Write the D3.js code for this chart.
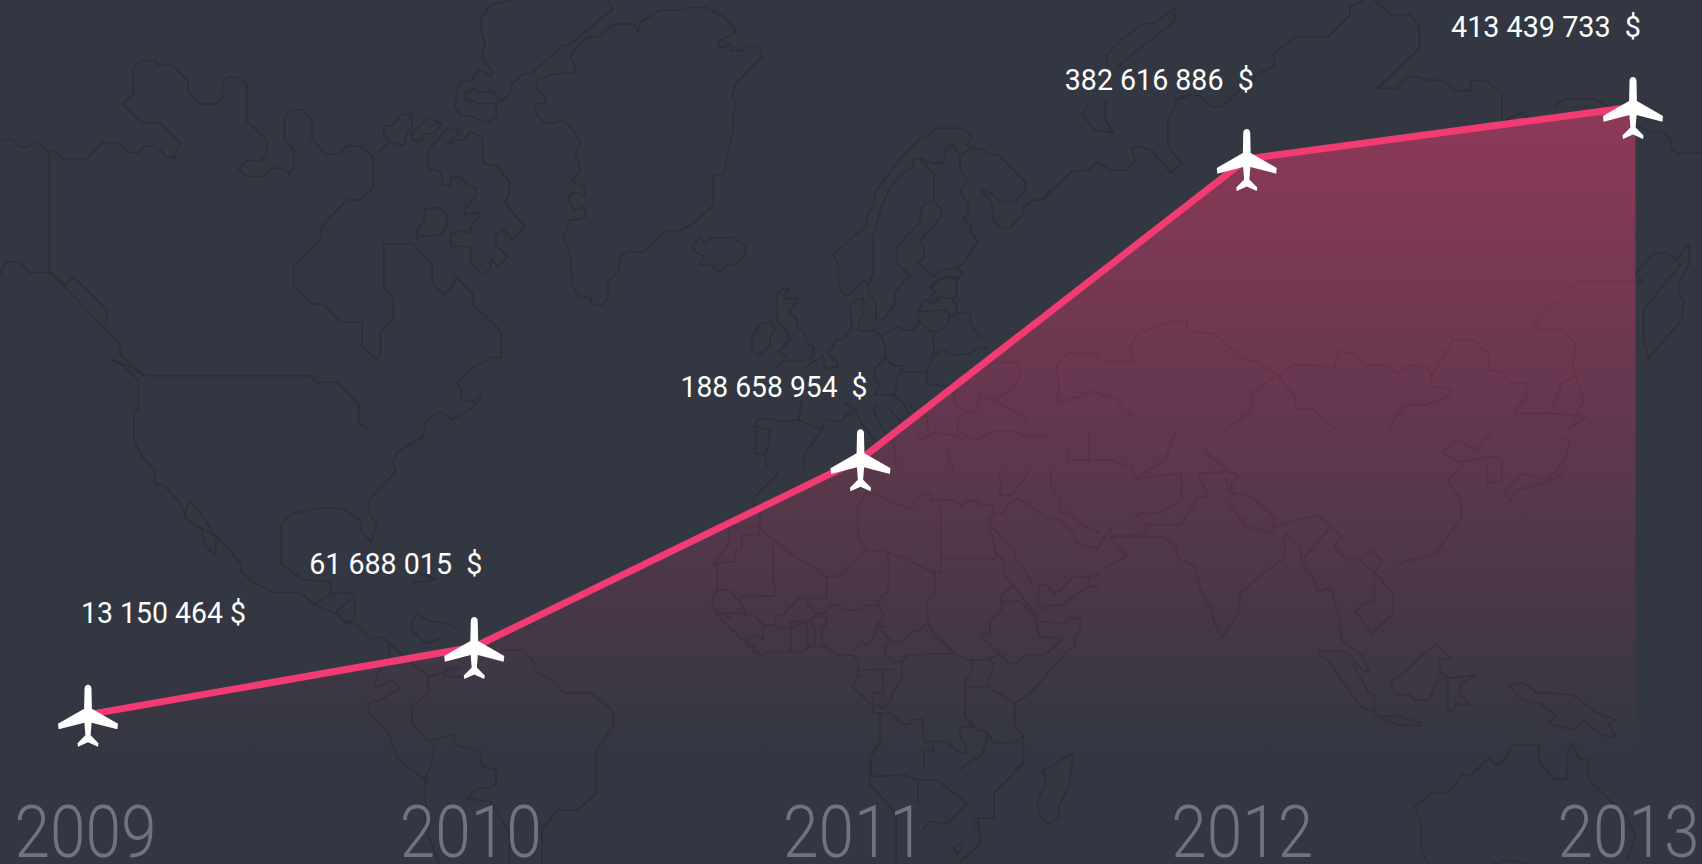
<!DOCTYPE html>
<html>
<head>
<meta charset="utf-8">
<script src="https://cdn.jsdelivr.net/npm/d3@7"></script>
<style>
    html, body { margin: 0; padding: 0; background: #323741; overflow: hidden; }
    svg { display: block; }
</style>
</head>
<body>
<div id="chart"></div>
<script>
const years = ["2009", "2010", "2011", "2012", "2013"];
const revenue = [13150464, 61688015, 188658954, 382616886, 413439733];
const revenueLabels = ["13 150 464 $", "61 688 015  $", "188 658 954  $", "382 616 886  $", "413 439 733  $"];

// the original infographic is not drawn to a straight scale, so the y scale has stops
const yDomain = [0, 100e6, 200e6, 300e6, 400e6, 413439733];
const yRange = [733, 593.6, 442, 287, 132, 107];

// where each label sits relative to its plane (the first one is on the right of it)
const labelDx = [158, 8, 7, 7, 8];
const labelDy = [-92, -73, -62, -69, -70];
const labelWidth = [165, 173, 187, 189, 190];
const yearDx = [-3, -4, -7, -5, -5];

// background world map, traced by hand from crops of the picture
// each crop has its own offset and scale, see drawMap()
const mapTopLeft = [
    "225,312 246,280 246,205 258,182 285,182 292,195 318,195 347,243 347,275 368,312 398,312 410,295 410,250 418,232 440,232 455,255 455,362 492,420 492,465 480,482 455,482 440,505 455,530 487,530 500,505 525,505 533,522 542,505 542,450 525,422 525,350 537,330 558,330 575,360 575,415 600,462 628,462 640,438 665,438 688,470 688,565 665,600 640,600 593,680 593,715 542,797 542,860 575,912 597,912 628,966 668,966 668,1040 695,1078 702,1060 702,995 725,955 725,895 708,865 708,732 762,732 797,790 797,850 818,885 838,850 838,825 872,880 872,912 925,995 925,1073 905,1073 873,1100 843,1150 850,1165 850,1200 873,1205 885,1185 890,1190 860,1238 832,1258 815,1235 800,1245 785,1270 785,1290",
    "225,312 262,368 295,368 332,428 322,473 308,473 288,438 265,438 255,458 235,458 218,428 190,428 158,477 118,477 100,455 88,452 65,425 52,440 35,440 25,420 0,418",
    "90,452 90,810",
    "0,825 10,785 35,785 55,818 90,818 122,855 135,830 197,930 197,965 188,980",
    "90,810 222,1035 222,1065 265,1125",
    "268,1127 572,1127 585,1147 623,1147 662,1215 662,1270 680,1290",
    "205,1078 225,1095 255,1140 255,1225 247,1240 247,1290",
    "205,1078 240,1100 265,1130",
    "695,460 718,425 745,437 752,395 760,385 760,342 742,342 722,378 708,378 708,405 718,425",
    "760,422 778,422 785,403 800,400 815,372 790,352 760,400 760,422",
    "825,435 850,390 825,388 790,450 790,505 812,515 818,555 832,555 832,532 850,532 860,552 878,565 878,590 855,630 860,645 885,635 885,650 868,680 868,700 850,690 832,700 832,738 868,740 868,790 890,825 905,805 905,775 918,800 937,770 915,735 915,705 928,688 945,718 968,680 932,610 940,575 940,545 915,497 892,490 890,415 868,395 855,418 842,420 825,435",
    "770,720 770,688 783,660 783,627 812,622 825,643 825,675 812,705 775,708",
    "945,0 905,15 888,50 888,95 895,130 888,175 910,215 905,228 885,208 870,240 848,248 838,320 850,345 868,348 890,365 905,365 915,350 915,310 885,310 860,298 860,280 875,265 880,275 910,275 925,303 940,285 945,250 965,222 980,222 1038,135 1050,135 1105,60 1130,30 1120,0",
    "1085,110 1058,150 1052,170 1060,195 1060,218 1020,222 990,240 990,265 1005,290 1005,310 988,312 988,340 1005,368 1022,368 1040,360 1062,400 1070,430 1062,460 1070,510 1055,545 1078,560 1078,585 1055,575 1048,600 1060,632 1078,620 1080,650 1068,658 1050,660 1040,715 1052,765 1055,850 1065,885 1090,895 1090,915 1110,915 1122,895 1122,845 1142,810 1145,770 1158,755 1188,755 1228,692 1255,692 1280,668 1315,618 1315,528 1335,520 1352,395 1352,350 1358,310 1350,285 1358,250 1382,210 1405,170 1405,150 1395,138 1372,140 1370,152 1350,152 1348,132 1328,145 1325,125 1355,100 1355,85 1335,50 1302,22 1270,22 1262,30 1218,30 1182,65 1178,98 1170,72 1138,72 1125,80 1105,110 1085,110",
    "1278,740 1290,710 1302,730 1312,715 1352,712 1375,740 1375,765 1355,795 1340,795 1328,818 1312,795 1290,795 1300,770 1282,755 1278,740"
];
const mapTopRight = [
    "350,600 408,515 440,510 455,485 480,510 510,510 525,485 518,445 530,440 555,450 590,518 610,490 585,440 585,355 600,320 600,300 625,285 640,285 665,320 685,320 720,265 740,265 745,225 780,200 780,160 820,110 880,110 920,45 920,20 945,0",
    "965,0 995,45 1030,45 1048,80 1048,145 970,265 1005,265 1025,230 1045,230 1060,240 1095,242 1112,272 1142,272 1142,242 1172,242 1200,285 1200,365",
    "472,205 472,165 505,110 520,95 540,70 560,70 597,25 597,65 545,130 510,175 490,205",
    "440,310 428,345 450,390 485,398 470,360 470,300",
    "1300,320 1300,310 1320,297 1370,297 1410,330",
    "1200,365 1235,338 1260,365",
    "1420,350 1470,395 1495,395 1510,415 1510,445 1525,460 1568,460",
    "1545,730 1520,780 1505,760 1480,760 1445,820 1460,845 1340,845 1258,975 1275,990 1310,990 1335,1030 1330,1100 1350,1200 1325,1290",
    "1545,730 1545,790 1525,850 1525,880 1535,900 1530,960 1470,1075 1460,1010 1460,930 1530,790",
    "380,1210 385,1160 380,1100 400,1060 450,1060 465,1085 520,1085 515,1045 530,1000 590,965 620,965 620,995 670,1000 725,1080 750,1085 790,1130 815,1095 855,1095 890,1105 900,1055 930,1060 945,1095 985,1095 1010,1120 1030,1095 1065,1105 1070,1130 1110,1020 1145,1018 1175,1060 1175,1110 1205,1120 1210,1148 1245,1150 1245,1195 1225,1225 1225,1240 1290,1240 1310,1150 1335,1130",
    "790,1130 820,1190 820,1225 850,1225 895,1290",
    "1070,1130 1070,1160 1105,1165 1105,1185 1060,1215 1020,1215 990,1290",
    "1290,1240 1355,1250 1320,1290",
    "380,1210 450,1175 490,1200 540,1290",
    "780,1130 740,1180 740,1230 690,1290"
];
const mapBottomLeft = [
    "247,0 247,35 265,85 285,120 285,160 305,170 330,215 345,270 400,320 445,400 445,425 470,460 505,487 555,488 580,525 625,555 635,575 660,585 685,630 705,620 718,640 718,680 700,720 690,765 700,770 720,750 740,775 700,810 680,820 680,850 715,905 735,990 785,1050 785,1190 810,1302",
    "350,210 365,240 385,285 398,325 398,378 380,350 372,300 345,270 340,255 350,210",
    "680,210 730,125 725,100 730,70 780,20 785,0",
    "680,210 680,245 695,285 685,335 665,300 665,270 630,235 585,235 555,245 535,255 518,285 518,400 560,450 610,455 610,490 580,525",
    "610,490 650,490 655,510 655,570 635,575",
    "620,545 650,505",
    "760,570 770,548 790,575 815,578 840,590",
    "760,570 760,600 785,640 815,625",
    "760,460 805,448 775,430",
    "925,660 965,660 985,695 985,720 1020,755 1040,790 1090,790 1130,840 1133,880 1100,965 1100,1090 1065,1140 1030,1140 1000,1195 1000,1302",
    "718,640 790,740 850,715 820,715 820,740 860,740",
    "790,740 790,790 760,830 760,880 790,935 835,912 840,945 885,965 890,1010 915,1020 915,1060 905,1075 880,1075 860,1105 905,1115 905,1200",
    "785,1050 800,980 800,945",
    "905,1115 940,1210 940,1300"
];
const mapBottomRight = [
    "480,320 575,320 600,350 603,385 635,408 645,480 665,545 672,585 686,620 715,550 718,490 760,430 800,385 800,310 830,350 830,395 855,450 860,485 885,475 900,560 905,630 945,680 955,725 945,725 915,665 862,662 865,680 880,690 905,750 940,830 965,845 965,795 955,790 925,700",
    "830,395 885,290 905,320 890,350 915,390 945,378 960,360 980,395 965,425 1000,490 1000,550 960,610 930,545 945,520 965,515 965,430 935,385",
    "1010,400 1020,395 1075,375 1100,320 1125,262 1125,210 1100,155 1130,95 1120,95 1090,70 1115,25 1150,60 1185,0",
    "1130,95 1175,80 1200,85 1200,150 1172,160 1172,110",
    "1215,215 1205,185 1235,130 1285,150 1315,90 1325,40 1310,25",
    "1215,215 1225,180 1265,165 1310,140 1290,130",
    "480,320 545,310 545,285 525,250 565,250 610,212 610,130 525,145 520,115 480,90 400,90 400,45",
    "545,285 610,285 640,200 660,200 640,130 700,125 715,140 700,160 705,190 735,195 780,260 780,310 730,290 695,215",
    "780,290 860,255 885,290",
    "480,320 480,290 450,370",
    "470,410 510,378 480,325",
    "320,1000 265,1090 265,1165 235,1165 240,1240 200,1300",
    "35,1040 100,1035 125,1050 160,1050 215,1120 180,1180 145,1175 135,1200",
    "40,1000 35,1060 85,1150 85,1300",
    "125,1050 125,1120",
    "410,968 405,1055 385,1130 385,1165 365,1180 350,1160 345,1110 360,1060 355,1020 375,1005 410,968",
    "190,1250 205,1240 208,1255 197,1272 190,1250",
    "225,1175 238,1175 238,1195 225,1198",
    "1000,750 1030,715 1050,680 1078,642 1105,685 1085,690 1085,725 1100,740 1085,745 1065,810 1040,810 1030,795 1005,795 995,760 1000,750",
    "1100,745 1155,735 1125,760 1120,785 1140,825 1115,820 1110,845 1100,845 1100,745",
    "965,855 1010,860 1052,880 1052,888 1010,885 965,855",
    "1212,765 1240,757 1265,790 1295,790 1330,795 1370,845 1410,870 1395,880 1410,918 1385,918 1350,870 1330,900 1285,880 1300,855 1270,820 1240,815 1212,765",
    "1065,1302 1052,1265 1052,1190 1040,1130 1070,1090 1100,1090 1130,1030 1140,1040 1175,985 1190,1005 1205,990 1220,945 1268,945 1268,995 1295,1048 1320,1048 1320,965 1330,940 1340,985 1358,990 1360,1050 1430,1160 1445,1220 1430,1290",
    "1180,1302 1215,1290 1250,1302",
    "440,100 440,0",
    "600,0 580,90 530,140",
    "650,60 695,120",
    "700,190 690,140"
];
const mapEurope = [
    "355,495 340,480 290,530 265,500 265,430 250,405 320,340 350,320 350,290 375,240 375,215 400,185 430,145 465,100 510,55 530,50 555,25 640,25 665,50 650,75 660,85",
    "370,345 395,260 425,195 465,150 490,145 490,120 510,115 552,165 552,240 525,250 512,270 512,305 440,380 440,430 478,465 435,515 435,550 400,600 378,600 378,550 355,520 355,495 370,460 370,345",
    "552,245 575,268 575,290 520,350 510,370 522,385 522,410 505,430 550,470 570,450 622,445",
    "510,115 545,130 580,130 590,85 610,75 630,105 630,150 655,180 635,205 635,225 655,250 655,280 640,295 665,320 660,335 685,365 640,430 622,445 640,460 622,475 600,470 570,480 540,500 555,515 540,530",
    "630,105 660,85 695,85 715,103 745,103 825,185 825,215 795,245 750,245 725,220 690,210 725,245 730,305 760,325 780,325 820,280 820,260 850,240 880,240 900,215",
    "300,555 325,535 340,535 335,570 345,575 330,600 325,630 345,635 375,630 395,650",
    "80,580 80,520 100,505 120,505 100,535 145,535 115,580 140,595 145,625 165,640 170,670 190,680 190,710 175,720 100,725 75,745",
    "80,580 85,610 110,630 120,660 85,695 115,715",
    "5,650 35,610 65,605 75,625 60,650 60,680 25,705 5,690 5,650",
    "300,555 305,625 280,655 258,660 235,700 260,725 265,740 225,745 220,710 190,725 165,745",
    "155,840 145,900 85,905 60,895 20,900 15,920 60,930 55,980 45,1000 50,1040",
    "20,930 15,1000 45,1000",
    "145,900 215,930 225,900 275,905 290,885 320,870 330,905 355,935 375,960",
    "215,930 165,1000 160,1050",
    "285,850 320,870",
    "395,650 405,680 405,715 375,745 375,780 390,790 375,825 430,825 460,850 475,880",
    "405,715 430,735 460,740 445,770 432,825",
    "460,755 530,755 530,790 545,795 610,800",
    "395,650 440,620 470,630 490,630 510,605 535,630 550,635 552,690 545,720 530,755",
    "552,705 575,690 610,705 660,700 680,685 715,685",
    "680,655 690,650 660,610 660,580 620,580 600,590 595,610 565,635 550,635",
    "505,605 505,575 520,540 555,550 565,530 605,535 620,555 620,580",
    "505,575 590,570 600,590",
    "540,500 565,480 590,470 620,480 620,530 605,535",
    "715,730 795,725 810,750 810,775 780,810 750,830 730,840 770,860 835,900",
    "725,845 690,820 680,870 640,880 620,910 625,935 670,960 735,935 790,935 830,950 900,950",
    "630,810 610,820 620,860 635,870",
    "380,855 370,870 395,920 430,970 440,1040",
    "420,870 450,905 475,925",
    "500,930 510,960 560,935 600,945 640,955",
    "600,970 590,1000 610,1050",
    "475,845 500,880 530,890 535,930"
];
const mapAfrica = [
    "235,0 225,22 205,40 160,85 160,110 178,125",
    "180,125 180,170 90,170 85,220 50,270 40,280 105,275 105,240 125,240 125,195 175,195 180,170",
    "40,280 52,290 52,355 35,390 48,425 60,445 170,550 190,560 205,545 275,545 310,545 330,530 375,530 415,555 460,555 475,575 475,615 458,650 520,710 520,730 570,730 610,762 632,762 635,748 668,748 672,815 740,815 780,850 798,850 798,825 780,800 780,770 810,770 860,785 880,818 945,818 970,800 945,770 945,700",
    "180,175 265,245 335,290 360,300 375,320 415,320 500,235 475,205 472,110 500,70 540,75 575,100 610,105 630,120 650,80 690,68 695,90 765,90 785,110 805,92 835,95 840,105 875,105 880,130 910,130 925,100 955,85 1045,145 1075,145 1125,195 1125,215 1165,230 1200,235",
    "722,90 722,305 700,305 650,285 625,265 600,262 565,245 565,360 535,390 535,405 550,430 550,440 530,465 560,470 530,470 520,505 500,525 485,515 460,545",
    "500,235 525,245 545,240 565,250",
    "722,265 885,265 888,250 880,220 880,205 865,170 880,130",
    "865,160 945,240 945,270 975,300 1000,345 1005,350",
    "888,250 910,270 915,320 940,345 1000,425 1020,455 1095,460 1110,445 1140,445 1140,475 1125,510 1125,530 1100,545 990,670 945,700 865,650 865,625 880,605 880,580 860,565 900,555",
    "705,305 705,375 680,390 680,425 685,455 700,490 765,550 625,555 605,575 580,575 555,550 555,530 575,515 605,515 630,490 660,480 685,455",
    "575,515 530,470",
    "535,405 500,405 480,420 430,420 415,405 395,405 370,430 350,430 320,400 320,385 380,385 380,320",
    "320,385 295,385 250,435 225,435 225,465 240,475 270,475 320,455 350,435",
    "225,380 225,350 220,330 218,220",
    "225,378 125,380 120,395 130,415 135,435 160,435 190,465 190,510 165,495 140,510 180,550",
    "52,360 85,360 120,395",
    "50,430 130,430",
    "65,430 95,445 70,445",
    "190,465 225,465",
    "270,455 320,455 320,510 330,530",
    "272,455 272,545",
    "350,435 380,445 380,460 365,480 365,525",
    "345,440 335,460 345,480 345,525",
    "840,495 870,490 870,455 905,420 905,395 960,395 1000,435 1020,500 1090,505",
    "840,495 925,578 950,578 975,555 1035,555 1090,505",
    "905,395 905,375 940,345",
    "765,550 800,570 860,570 880,560",
    "620,555 605,580 605,630 575,670 575,690 550,715 520,700 515,670 550,668 550,610 530,600 480,600 580,598",
    "480,615 500,615",
    "815,570 815,605 795,630 795,740 835,785",
    "795,650 865,650",
    "970,800 970,880 945,900",
    "880,818 860,790 858,820 845,855 820,870 800,880 780,900",
    "672,815 700,815 700,845 672,845 672,900",
    "540,730 540,820 510,860 510,900",
    "1015,345 1015,400 1035,425 1050,405 1085,405 1120,380 1165,350 1165,320 1120,320 1065,375 1040,345 1015,345",
    "1165,325 1200,310",
    "1165,350 1200,350",
    "905,0 895,20 905,40 898,75 935,75 985,10 985,0",
    "1050,0 1055,55 1085,90 1075,130 1105,125 1140,160 1200,190"
];

const width = 1702;
const height = 864;

const svg = d3.select("#chart")
    .append("svg")
    .attr("width", width)
    .attr("height", height);

const xScale = d3.scalePoint()
    .domain(years)
    .range([88, 1633]);

const yScale = d3.scaleLinear()
    .domain(yDomain)
    .range(yRange);

function drawMap(group, polylines, x, y, sx, sy) {
    const toLine = d3.line();
    group.selectAll(null)
        .data(polylines)
        .enter().append("path")
        .attr("d", d => toLine(d.split(" ").map(p => {
            const c = p.split(",");
            return [x + c[0] * sx, y + c[1] * sy];
        })));
}

const map = svg.append("g")
    .attr("fill", "none")
    .attr("stroke", "#2d2e38")
    .attr("stroke-width", 1.7)
    .attr("stroke-linejoin", "round");

drawMap(map, mapTopLeft, 0, 0, 850 / 1568, 1 / 3);
drawMap(map, mapTopRight, 850, 0, 852 / 1568, 1 / 3);
drawMap(map, mapBottomLeft, 0, 430, 850 / 1568, 1 / 3);
drawMap(map, mapBottomRight, 850, 430, 852 / 1568, 1 / 3);
drawMap(map, mapEurope, 750, 120, 1 / 3, 1 / 3);
drawMap(map, mapAfrica, 700, 470, 1 / 3, 1 / 3);

// the fill fades out a bit below the zero stop
const areaFloor = -18e6;

const gradient = svg.append("defs").append("linearGradient")
    .attr("id", "areaFade")
    .attr("gradientUnits", "userSpaceOnUse")
    .attr("x1", 0).attr("x2", 0)
    .attr("y1", yScale(d3.max(revenue)))
    .attr("y2", yScale(areaFloor));

gradient.append("stop").attr("offset", 0).attr("stop-color", "#f23a73").attr("stop-opacity", 0.48);
gradient.append("stop").attr("offset", 1).attr("stop-color", "#f23a73").attr("stop-opacity", 0);

// the fill runs a little past the last plane's centre
const area = d3.area()
    .x((d, i) => xScale(years[i]) + (i === years.length - 1 ? 2.5 : 0))
    .y0(yScale(areaFloor))
    .y1(d => yScale(d));

const line = d3.line()
    .x((d, i) => xScale(years[i]))
    .y(d => yScale(d));

svg.append("path")
    .datum(revenue)
    .attr("fill", "url(#areaFade)")
    .attr("d", area);

svg.append("path")
    .datum(revenue)
    .attr("fill", "none")
    .attr("stroke", "#f23a73")
    .attr("stroke-width", 7)
    .attr("stroke-linejoin", "round")
    .attr("d", line);

// plane icon, origin is the nose
const planeIcon = "M0,0 C2.2,0 3.5,1.6 3.5,4.5 L3.9,24 L30,39 L29.4,44.7 L3.6,38 L2.6,50.5 L10.5,58.5 L10,62 L0,57.5 L-10,62 L-10.5,58.5 L-2.6,50.5 L-3.6,38 L-29.4,44.7 L-30,39 L-3.9,24 L-3.5,4.5 C-3.5,1.6 -2.2,0 0,0 Z";

svg.selectAll(".plane")
    .data(revenue)
    .enter().append("path")
    .attr("class", "plane")
    .attr("fill", "#fff")
    .attr("transform", (d, i) => "translate(" + xScale(years[i]) + "," + (yScale(d) - 30) + ")")
    .attr("d", planeIcon);

svg.selectAll(".amount")
    .data(revenueLabels)
    .enter().append("text")
    .attr("class", "amount")
    .attr("x", (d, i) => xScale(years[i]) + labelDx[i])
    .attr("y", (d, i) => yScale(revenue[i]) + labelDy[i])
    .attr("text-anchor", "end")
    .attr("fill", "#fff")
    .attr("textLength", (d, i) => labelWidth[i])
    .attr("lengthAdjust", "spacingAndGlyphs")
    .style("font-family", "Roboto, sans-serif")
    .style("font-weight", 400)
    .style("font-size", "30px")
    .style("white-space", "pre")
    .text(d => d);

const xAxis = svg.append("g")
    .attr("transform", "translate(0,857)")
    .call(d3.axisBottom(xScale).tickSize(0));

xAxis.select(".domain").remove();

xAxis.selectAll("text")
    .attr("y", 0)
    .attr("dy", 0)
    .attr("x", (d, i) => yearDx[i])
    .attr("fill", "#6f7480")
    .attr("textLength", 142)
    .attr("lengthAdjust", "spacingAndGlyphs")
    .style("font-family", "Roboto, sans-serif")
    .style("font-weight", 300)
    .style("font-size", "72px");
</script>
</body>
</html>
